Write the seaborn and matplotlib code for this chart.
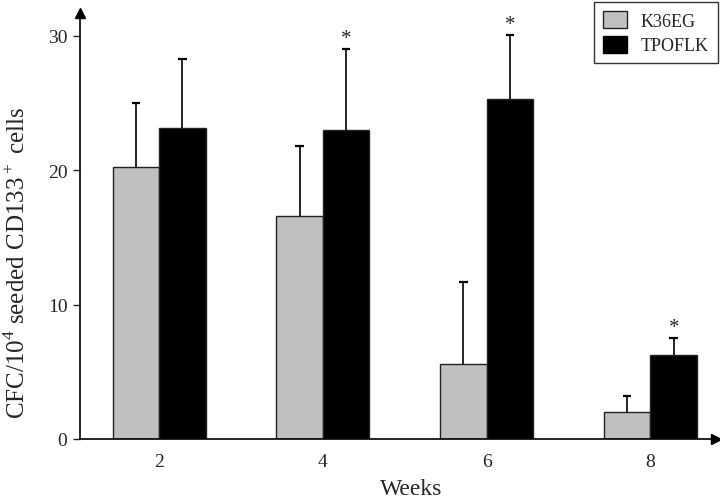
import matplotlib
matplotlib.use("Agg")
import numpy as np
import pandas as pd
import matplotlib.pyplot as plt
import seaborn as sns
from matplotlib.patches import Patch

weeks = ["2", "4", "6", "8"]
k36eg = [20.25, 16.6, 5.55, 2.03]
k36eg_err = [4.75, 5.2, 6.1, 1.17]
tpoflk = [23.12, 22.97, 25.3, 6.27]
tpoflk_err = [5.13, 6.03, 4.76, 1.25]
signif = [False, True, True, True]

sns.set_style("white")
plt.rcParams['font.family'] = ['Liberation Serif', 'DejaVu Serif']
plt.rcParams['mathtext.fontset'] = 'custom'
plt.rcParams['mathtext.rm'] = 'Liberation Serif'

df = pd.DataFrame({
    "Weeks": weeks * 2,
    "value": k36eg + tpoflk,
    "group": ["K36EG"] * 4 + ["TPOFLK"] * 4,
})

fig = plt.figure(figsize=(7.2, 5.02), dpi=100)
ax = fig.add_axes([80 / 720, 62 / 502, 636 / 720, 426 / 502])

sns.barplot(data=df, x="Weeks", y="value", hue="group",
            palette={"K36EG": "#c0c0c0", "TPOFLK": "black"},
            width=0.568, errorbar=None, edgecolor="#222222", linewidth=1,
            legend=False, ax=ax)

# upper-only error bars with a cap on top
cap = 0.026
for cont, errs in zip(ax.containers, [k36eg_err, tpoflk_err]):
    for bar, e in zip(cont, errs):
        xc = bar.get_x() + bar.get_width() / 2
        h = bar.get_height()
        ax.vlines(xc, h, h + e, color="black", linewidth=1.2)
        ax.hlines(h + e, xc - cap, xc + cap, color="black", linewidth=1.6)

for bar, e, s in zip(ax.containers[1], tpoflk_err, signif):
    if s:
        ax.text(bar.get_x() + bar.get_width() / 2, bar.get_height() + e + 0.8,
                "*", ha="center", va="center", fontsize=15)

ax.set_xlim(-0.483, 3.4)
ax.set_ylim(0, 31.7)
ax.set_yticks([0, 10, 20, 30])
ax.tick_params(axis="x", length=0, pad=10, labelsize=14)
ax.tick_params(axis="y", left=True, length=5, width=1, direction="out", pad=4, labelsize=14)
for sp in ["top", "right"]:
    ax.spines[sp].set_visible(False)
for sp in ["left", "bottom"]:
    ax.spines[sp].set_color("black")
    ax.spines[sp].set_linewidth(1.2)
ax.plot(1, 0, ">", color="black", markersize=7, transform=ax.transAxes, clip_on=False)
ax.plot(0, 1, "^", color="black", markersize=7, transform=ax.transAxes, clip_on=False)

ax.set_xlabel("Weeks", fontsize=17, va="bottom")
ax.set_ylabel(r"CFC/10$^4$ seeded CD133$^+$ cells", fontsize=18)
ax.xaxis.set_label_coords(0.52, -0.142)
ax.yaxis.set_label_coords(-0.079, 0.415)

handles = [Patch(facecolor="#c0c0c0", edgecolor="#222222", label="K36EG"),
           Patch(facecolor="black", edgecolor="black", label="TPOFLK")]
leg = fig.legend(handles=handles, loc="upper right", bbox_to_anchor=(718 / 720, 499 / 502),
                 fontsize=13, frameon=True, fancybox=False, handlelength=1.3,
                 handleheight=1.05, borderpad=0.5, labelspacing=0.35,
                 handletextpad=0.8, borderaxespad=0)
leg.get_frame().set_edgecolor("black")
leg.get_frame().set_linewidth(1)

fig.savefig("out.png", dpi=100)
